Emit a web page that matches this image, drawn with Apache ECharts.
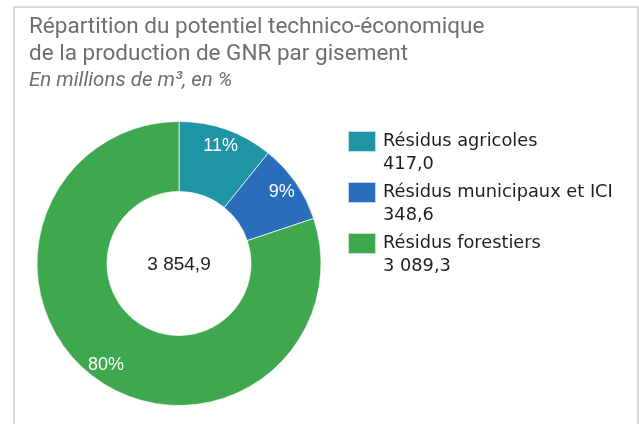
<!DOCTYPE html>
<html lang="fr">
<head>
  <meta charset="UTF-8">
  <title>Répartition du potentiel technico-économique</title>
  <style>
    html, body { margin: 0; padding: 0; background: #fff; }
    #main { width: 639px; height: 424px; }
  </style>
</head>
<body>
  <div id="main"></div>
</body>
<script src="https://cdn.jsdelivr.net/npm/echarts@6/dist/echarts.min.js"></script>
<script>
  var myChart = echarts.init(document.getElementById('main'));

  // gisements et potentiel (millions de m3)
  var gisements = ['Résidus agricoles', 'Résidus municipaux et ICI', 'Résidus forestiers'];
  var potentiel = [417.0, 348.6, 3089.3];
  var couleurs = ['#1e94a4', '#2a6ebb', '#3fa84e'];

  // format français : 3 854,9
  function fmt(v) {
    var parts = v.toFixed(1).split('.');
    parts[0] = parts[0].replace(/\B(?=(\d{3})+(?!\d))/g, ' ');
    return parts.join(',');
  }

  var total = potentiel.reduce(function (a, b) { return a + b; }, 0);

  var pieData = gisements.map(function (name, i) {
    return { name: name, value: potentiel[i], itemStyle: { color: couleurs[i] } };
  });

  // hauteur de ligne de la légende ; une ligne vide en tête pour que
  // le nom se trouve au niveau du carré et la valeur en dessous
  var LH = 22.5;

  option = {
    animation: false,
    title: {
      text: 'Répartition du potentiel technico-économique\nde la production de GNR par gisement',
      subtext: 'En millions de m³, en %',
      left: 29,
      top: 14,
      padding: 0,
      itemGap: 2,
      textStyle: {
        fontFamily: 'Roboto',
        fontWeight: 'normal',
        fontSize: 22.5,
        lineHeight: 27,
        color: '#6e6e6e'
      },
      subtextStyle: {
        fontFamily: 'Roboto',
        fontStyle: 'italic',
        fontSize: 20.5,
        lineHeight: 22,
        color: '#6e6e6e'
      }
    },
    legend: {
      orient: 'vertical',
      left: 347,
      top: 131 + 10.5 - 1.5 * LH,
      padding: 0,
      icon: 'rect',
      itemWidth: 28,
      itemHeight: 21,
      itemGap: 51 - 3 * LH,
      selectedMode: false,
      data: gisements,
      formatter: function (name) {
        return '\n' + name + '\n' + fmt(potentiel[gisements.indexOf(name)]);
      },
      textStyle: {
        fontFamily: 'DejaVu Sans',
        fontSize: 17.8,
        lineHeight: LH,
        color: '#1e1e1e',
        padding: [0, 0, 0, 2]
      }
    },
    graphic: [
      {
        type: 'rect',
        silent: true,
        shape: { x: 14, y: 7, width: 624, height: 440 },
        style: { fill: 'none', stroke: '#dadada', lineWidth: 2 }
      },
      {
        type: 'text',
        x: 179,
        y: 265,
        style: {
          text: fmt(total),
          align: 'center',
          verticalAlign: 'middle',
          fontFamily: 'Liberation Sans',
          fontSize: 19,
          fill: '#1e1e1e'
        }
      }
    ],
    series: [
      {
        name: 'Potentiel',
        type: 'pie',
        center: [179, 263.5],
        radius: [72, 142],
        startAngle: 90,
        clockwise: true,
        label: { show: false },
        labelLine: { show: false },
        itemStyle: { borderColor: 'rgba(255,255,255,0.7)', borderWidth: 1 },
        emphasis: { disabled: true },
        data: pieData
      },
      {
        // couche des étiquettes en %, placée vers l'extérieur de l'anneau
        name: 'Parts',
        type: 'pie',
        silent: true,
        center: [179, 263.5],
        radius: [102, 142],
        startAngle: 90,
        clockwise: true,
        itemStyle: { color: 'rgba(0,0,0,0)' },
        label: {
          show: true,
          position: 'inside',
          fontFamily: 'Liberation Sans',
          fontSize: 18,
          color: '#fff',
          formatter: function (p) { return Math.round(p.percent) + '%'; }
        },
        labelLine: { show: false },
        emphasis: { disabled: true },
        data: gisements.map(function (name, i) { return { name: name, value: potentiel[i] }; })
      }
    ]
  };

  myChart.setOption(option);
</script>
</html>
